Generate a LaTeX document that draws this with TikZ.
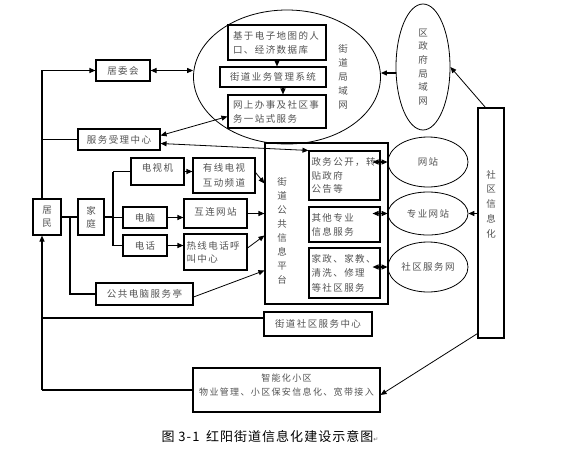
\documentclass[tikz,border=0pt]{standalone}
\usepackage{fontspec}
\setmainfont{Noto Sans CJK SC}
\newfontfamily\cjk{Noto Sans CJK SC}[LetterSpace=15]
\newfontfamily\capfont{Noto Sans CJK SC}[LetterSpace=8]
\newfontfamily\dejavu{DejaVu Sans}
\usetikzlibrary{shapes.geometric,arrows.meta,calc}
\begin{document}
\begin{tikzpicture}[x=1pt,y=-1pt,
  >={Triangle[length=6pt,width=5pt]},
  every node/.style={font=\cjk\fontsize{9.5}{14}\selectfont, text=black!68, inner sep=1.5pt},
  bx/.style={draw=black, line width=1.1pt},
  ov/.style={draw=black, ellipse, line width=0.8pt, inner sep=0pt},
  ln/.style={draw=black, line width=1.1pt},
  cn/.style={draw=black, line width=0.8pt},
  vt/.style={align=center, inner sep=0pt}
]
\useasboundingbox (0,0) rectangle (571,451);
% top cluster
\node[ov, minimum width=187pt, minimum height=134pt] (e1) at (287,77) {};
\node[bx, minimum width=98pt, minimum height=35pt, text width=88pt, align=left] (b1) at (277,42.5) {基于电子地图的人\\口、经济数据库};
\node[bx, minimum width=106pt, minimum height=20pt] (b2) at (273,77) {街道业务管理系统};
\node[bx, minimum width=98pt, minimum height=33pt, text width=88pt, align=left] (b3) at (277,111.5) {网上办事及社区事\\务一站式服务};
\node[vt] (t1) at (343,77) {街\\道\\局\\域\\网};
\node[ov, minimum width=54pt, minimum height=126pt] (e2) at (423,67) {};
\node[vt, font=\cjk\fontsize{9.5}{13.6}\selectfont] (t2) at (423,67) {区\\政\\府\\局\\域\\网};
\node[bx, minimum width=26pt, minimum height=230pt] (sq) at (491,223) {};
\node[vt, font=\cjk\fontsize{9.5}{14.7}\selectfont] (t3) at (491,204) {社\\区\\信\\息\\化};
% left side
\node[bx, minimum width=54pt, minimum height=21pt] (jwh) at (123,70.5) {居委会};
\node[bx, minimum width=82pt, minimum height=21pt] (fw) at (119,139.5) {服务受理中心};
\node[bx, minimum width=28pt, minimum height=36pt, align=center, font=\cjk\fontsize{9.5}{13}\selectfont] (jm) at (47,217) {居\\民};
\node[bx, minimum width=26pt, minimum height=36pt, align=center, font=\cjk\fontsize{9.5}{13}\selectfont] (jt) at (91,217) {家\\庭};
\node[bx, minimum width=53pt, minimum height=27pt, text depth=8pt] (dsj) at (157.5,171.5) {电视机};
\node[bx, minimum width=44pt, minimum height=21pt] (dn) at (145,217.5) {电脑};
\node[bx, minimum width=44pt, minimum height=21pt] (dh) at (145,245.5) {电话};
\node[bx, minimum width=62pt, minimum height=35pt, align=center, font=\cjk\fontsize{9.5}{15}\selectfont] (yx) at (224,175.5) {有线电视\\互动频道};
\node[bx, minimum width=63pt, minimum height=29pt, text depth=5pt] (hl) at (215.5,213.5) {互连网站};
\node[bx, minimum width=63pt, minimum height=36pt, text width=58pt, align=left, font=\cjk\fontsize{9.5}{13}\selectfont] (rx) at (215.5,252) {热线电话呼\\叫中心};
\node[bx, minimum width=97pt, minimum height=22pt] (gg) at (144.5,294) {公共电脑服务亭};
% platform
\node[bx, minimum width=123pt, minimum height=161pt] (pt) at (326.5,223.5) {};
\node[vt] (t4) at (282,231) {街\\道\\公\\共\\信\\息\\平\\台};
\node[bx, minimum width=71pt, minimum height=49pt, text width=66pt, align=left, font=\cjk\fontsize{9.5}{13.5}\selectfont] (p1) at (344.5,175.5) {政务公开，转\\贴政府\\公告等};
\node[bx, minimum width=71pt, minimum height=35pt, text width=66pt, align=left] (p2) at (344.5,224.5) {其他专业\\信息服务};
\node[bx, minimum width=71pt, minimum height=50pt, text width=66pt, align=left, font=\cjk\fontsize{9.5}{14.5}\selectfont] (p3) at (344.5,273) {家政、家教、\\清洗、修理\\等社区服务};
\node[ov, minimum width=80pt, minimum height=50pt] (w1) at (428,162) {网站};
\node[ov, minimum width=80pt, minimum height=43pt] (w2) at (428,213.5) {专业网站};
\node[ov, minimum width=80pt, minimum height=50pt] (w3) at (428,267) {社区服务网};
% bottom
\node[bx, minimum width=108pt, minimum height=24pt] (sc) at (318,324) {街道社区服务中心};
\node[bx, minimum width=187pt, minimum height=44pt] (zn) at (286.5,390) {};
\node[align=center, font=\cjk\fontsize{9}{14}\selectfont] (znt) at (286.5,385) {智能化小区\\物业管理、小区保安信息化、宽带接入};
\node[font=\capfont\fontsize{13}{15}\selectfont, text=black] (cap) at (270,437) {图 3-1\enspace 红阳街道信息化建设示意图{\dejavu\fontsize{6}{6}\selectfont\color{black!60}↵}};
% helper coordinates
\coordinate (lx) at (42,0);
\coordinate (jx) at (113,0);
\coordinate (gx) at (70,0);
\path ($(e2.west)+(0,6)$) coordinate (e2a);
\path ($(b2.south)+(10,0)$) coordinate (b2s);
% connectors
\draw[ln,->] (jm.north -| lx) |- (jwh.west);
\draw[ln] (lx |- fw.west) -- (fw.west);
\draw[ln,<->] (jwh.east) -- (jwh.east -| e1.west);
\draw[ln,->] (b1.south) -- (b1.south |- b2.north);
\draw[ln,->] (b2s) -- (b2s |- b3.north);
\draw[ln,->] (e2a) -- (e2a -| e1.east);
\draw[cn,->] ($(sq.north west)+(8,0)$) -- (e2.east);
\draw[ln,->] (sq.west |- w2.east) -- (w2.east);
\draw[cn,->] ($(sq.south west)+(0,-5)$) -- (zn.-3);
\draw[cn,<->] ($(fw.east)+(0,-4)$) -- ($(b3.west)+(0,5)$);
\draw[cn,<->] ($(fw.east)+(0,4)$) -- (p1.north west);
\draw[ln] (jm.east) -- (jt.west);
\draw[ln] (jt.east) -- (jt.east -| jx);
\draw[ln] (jx |- dsj.west) -- (dsj.west);
\draw[ln] (jx |- dsj.west) |- (dh.west);
\draw[ln] (jx |- dn.west) -- (dn.west);
\draw[ln] (gx |- jm.east) |- (gg.west);
\draw[ln,->] (dsj.east) -- (dsj.east -| yx.west);
\draw[ln,->] (dn.east) -- (dn.east -| hl.west);
\draw[ln,->] (dh.east) -- (dh.east -| rx.west);
\draw[cn,->] ($(yx.east)+(0,-3)$) -- ($(pt.west)+(0,-40)$);
\draw[ln,->] (hl.east) -- (hl.east -| pt.west);
\draw[cn,->] ($(rx.east)+(0,-4)$) -- ($(pt.west)+(0,12)$);
\draw[cn,->] ($(gg.east)+(0,3)$) -- ($(pt.west)+(0,47)$);
\draw[ln,<->] ($(p1.east |- w1.west)+(-8,0)$) -- (w1.west);
\draw[ln,<->] ($(p2.east |- w2.west)+(-8,0)$) -- (w2.west);
\draw[ln,<->] ($(p3.east |- w3.west)+(-8,0)$) -- (w3.west);
\draw[ln,->] (lx |- zn.west) -- (lx |- jm.south);
\draw[ln] (lx |- zn.west) -- (zn.west);
\draw[ln] ($(lx |- sc.west)+(0,-6)$) -- ($(sc.west)+(0,-6)$);
\end{tikzpicture}
\end{document}
